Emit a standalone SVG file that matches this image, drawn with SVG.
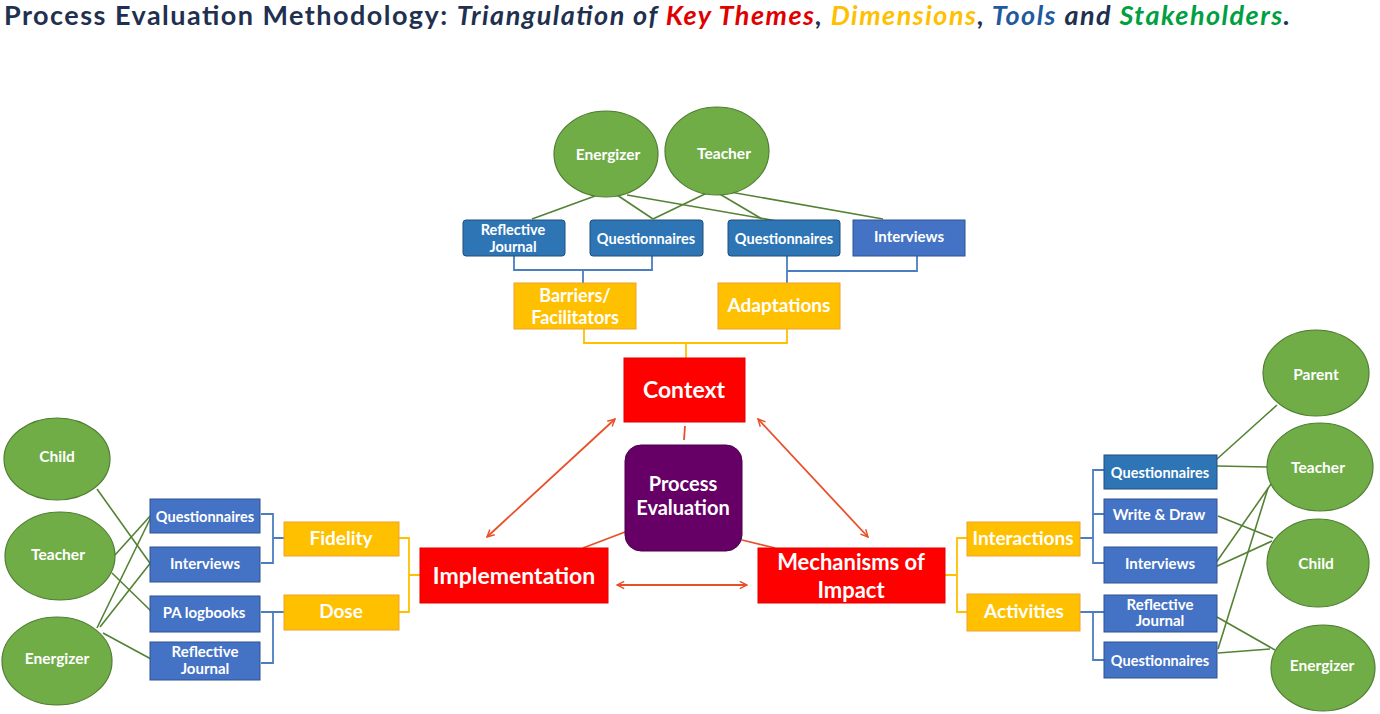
<svg xmlns="http://www.w3.org/2000/svg" width="1380" height="714" viewBox="0 0 1380 714">
<defs>
<style>
.t{font-family:Lato,"Open Sans","Liberation Sans",sans-serif;font-weight:bold;fill:#fff;text-anchor:middle;dominant-baseline:central}
.st{fill:#70AD47;stroke:#507E32;stroke-width:1.2}
.tl{fill:#4472C4;stroke:#2F528F;stroke-width:1}
.tl2{fill:#2E75B6;stroke:#1F4E79;stroke-width:1}
.dm{fill:#FFC000;stroke:#F0A030;stroke-width:1}
.kt{fill:#FF0000;stroke:#E00000;stroke-width:1}
.gl{stroke:#548235;stroke-width:1.6;fill:none}
.bl{stroke:#4A7EC0;stroke-width:1.8;fill:none}
.yl{stroke:#FFC000;stroke-width:1.8;fill:none}
.rl{stroke:#E8502A;stroke-width:1.8;fill:none}
.fs13{font-size:14.5px}
.fs14{font-size:15px}
.fe{font-size:15.5px}
.fs18{font-size:19px}
.fs21{font-size:23px}
</style>
<marker id="ah" viewBox="0 0 10 10" refX="9" refY="5" markerWidth="9" markerHeight="9" orient="auto-start-reverse" markerUnits="userSpaceOnUse">
<path d="M1,1 L9,5 L1,9" fill="none" stroke="#E8502A" stroke-width="1.6"/>
</marker>
</defs>
<rect width="1380" height="714" fill="#fff"/>

<text x="4" y="25" font-family="Lato,'Open Sans','Liberation Sans',sans-serif" font-weight="bold" font-size="27" fill="#1F3050" textLength="1286" lengthAdjust="spacing">Process Evaluation Methodology: <tspan font-style="italic">Triangulation of <tspan fill="#E00000">Key Themes</tspan>, <tspan fill="#FFC000">Dimensions</tspan>, <tspan fill="#1F5AA0">Tools</tspan> and <tspan fill="#00A040">Stakeholders</tspan>.</tspan></text>

<g id="connectors">
<line class="gl" x1="595" y1="196" x2="532" y2="219"/>
<line class="gl" x1="617" y1="195" x2="653" y2="219"/>
<line class="gl" x1="707" y1="193" x2="653" y2="219"/>
<line class="gl" x1="627" y1="195" x2="777" y2="221"/>
<line class="gl" x1="718" y1="193" x2="762" y2="219"/>
<line class="gl" x1="730" y1="192" x2="883" y2="219"/>
<path class="bl" d="M514,256 V270 H652 V256 M583,270 V283"/>
<path class="bl" d="M787,256 V283 M787,271 H917 V256"/>
<path class="yl" d="M584,329 V343 H787 V329 M686,343 V358"/>
<line class="gl" x1="97" y1="489" x2="152" y2="566"/>
<line class="gl" x1="115" y1="555" x2="152" y2="514"/>
<line class="gl" x1="112" y1="573" x2="152" y2="612"/>
<line class="gl" x1="97" y1="628" x2="152" y2="515"/>
<line class="gl" x1="100" y1="627" x2="152" y2="561"/>
<line class="gl" x1="103" y1="633" x2="151" y2="659"/>
<path class="bl" d="M261,514 H273 V563 H261 M273,538 H284"/>
<path class="bl" d="M261,612 H284 M273,612 V663 H261"/>
<path class="yl" d="M399,538 H409 V612 H399 M409,575 H420"/>
<path class="bl" d="M1080,538 H1093 M1104,470 H1093 V563 H1104 M1093,514 H1104"/>
<path class="bl" d="M1080,612 H1104 M1093,612 V660 H1104"/>
<path class="yl" d="M967,538 H957 V612 H967 M945,575 H957"/>
<line class="gl" x1="1277" y1="405" x2="1217" y2="459"/>
<line class="gl" x1="1267" y1="467" x2="1217" y2="466"/>
<line class="gl" x1="1271" y1="484" x2="1213" y2="567"/>
<line class="gl" x1="1268" y1="488" x2="1218" y2="649"/>
<line class="gl" x1="1218" y1="516" x2="1273" y2="538"/>
<line class="gl" x1="1213" y1="568" x2="1272" y2="541"/>
<line class="gl" x1="1217" y1="617" x2="1275" y2="650"/>
<line class="gl" x1="1218" y1="653" x2="1270" y2="649"/>
<line class="rl" x1="615" y1="419" x2="487" y2="537" marker-start="url(#ah)" marker-end="url(#ah)"/>
<line class="rl" x1="758" y1="419" x2="868" y2="537" marker-start="url(#ah)" marker-end="url(#ah)"/>
<line class="rl" x1="617" y1="585" x2="747" y2="585" marker-start="url(#ah)" marker-end="url(#ah)"/>
<line class="rl" x1="685" y1="426" x2="684" y2="440"/>
<line class="rl" x1="625" y1="532" x2="583" y2="548"/>
<line class="rl" x1="742" y1="540" x2="775" y2="548"/>
</g>

<g id="context"><rect class="kt" x="624" y="358" width="121" height="64"/><text class="t fs21" x="684" y="389">Context</text></g>
<g id="process-evaluation"><rect x="625" y="445" width="117" height="106" rx="16" fill="#660066" stroke="#4A004A" stroke-width="1"/><text class="t" font-size="20" x="683" y="483">Process</text><text class="t" font-size="20" x="683" y="507">Evaluation</text></g>
<g id="implementation"><rect class="kt" x="420" y="548" width="188" height="55"/><text class="t fs21" x="514" y="575">Implementation</text></g>
<g id="mechanisms"><rect class="kt" x="758" y="548" width="187" height="55"/><text class="t" font-size="22" x="851" y="561">Mechanisms of</text><text class="t" font-size="22" x="851" y="589">Impact</text></g>

<g id="barriers"><rect class="dm" x="514" y="283" width="122" height="46"/><text class="t" font-size="18" x="575" y="295">Barriers/</text><text class="t" font-size="18" x="575" y="317">Facilitators</text></g>
<g id="adaptations"><rect class="dm" x="718" y="283" width="122" height="46"/><text class="t fs18" x="779" y="304">Adaptations</text></g>
<g id="fidelity"><rect class="dm" x="284" y="522" width="115" height="34"/><text class="t fs18" x="341" y="537">Fidelity</text></g>
<g id="dose"><rect class="dm" x="284" y="595" width="115" height="35"/><text class="t fs18" x="341" y="610">Dose</text></g>
<g id="interactions"><rect class="dm" x="967" y="522" width="113" height="34"/><text class="t fs18" x="1023" y="537">Interactions</text></g>
<g id="activities"><rect class="dm" x="967" y="594" width="113" height="37"/><text class="t fs18" x="1024" y="610">Activities</text></g>

<g id="top-reflective"><rect class="tl2" x="463" y="220" width="102" height="36" rx="3"/><text class="t fs13" x="513" y="229">Reflective</text><text class="t fs13" x="513" y="246">Journal</text></g>
<g id="top-questionnaires-1"><rect class="tl2" x="590" y="220" width="113" height="36" rx="3"/><text class="t fs13" x="646" y="238">Questionnaires</text></g>
<g id="top-questionnaires-2"><rect class="tl2" x="728" y="220" width="112" height="36" rx="3"/><text class="t fs13" x="784" y="238">Questionnaires</text></g>
<g id="top-interviews"><rect class="tl" x="853" y="220" width="112" height="36"/><text class="t fs14" x="909" y="236">Interviews</text></g>

<g id="left-questionnaires"><rect class="tl" x="150" y="499" width="110" height="34"/><text class="t fs13" x="205" y="516">Questionnaires</text></g>
<g id="left-interviews"><rect class="tl" x="150" y="547" width="110" height="35"/><text class="t fs14" x="205" y="563">Interviews</text></g>
<g id="left-pa-logbooks"><rect class="tl" x="150" y="596" width="110" height="36"/><text class="t fs14" x="204" y="612">PA logbooks</text></g>
<g id="left-reflective"><rect class="tl" x="150" y="642" width="110" height="38"/><text class="t fs14" x="205" y="651">Reflective</text><text class="t fs14" x="205" y="668">Journal</text></g>

<g id="right-questionnaires-1"><rect class="tl2" x="1104" y="455" width="113" height="34"/><text class="t fs13" x="1160" y="472">Questionnaires</text></g>
<g id="right-write-draw"><rect class="tl" x="1104" y="499" width="113" height="34"/><text class="t fs14" x="1159" y="514">Write &amp; Draw</text></g>
<g id="right-interviews"><rect class="tl" x="1104" y="547" width="113" height="36"/><text class="t fs14" x="1160" y="563">Interviews</text></g>
<g id="right-reflective"><rect class="tl" x="1104" y="595" width="113" height="37"/><text class="t fs14" x="1160" y="604">Reflective</text><text class="t fs14" x="1160" y="620">Journal</text></g>
<g id="right-questionnaires-2"><rect class="tl" x="1104" y="642" width="113" height="36"/><text class="t fs13" x="1160" y="660">Questionnaires</text></g>

<g id="top-energizer"><ellipse class="st" cx="606" cy="154" rx="52" ry="43"/><text class="t fe" x="608" y="154">Energizer</text></g>
<g id="top-teacher"><ellipse class="st" cx="717" cy="151" rx="52" ry="44"/><text class="t fe" x="724" y="153">Teacher</text></g>
<g id="left-child"><ellipse class="st" cx="57" cy="459" rx="53" ry="41"/><text class="t fe" x="57" y="456">Child</text></g>
<g id="left-teacher"><ellipse class="st" cx="60" cy="556" rx="55" ry="44"/><text class="t fe" x="58" y="554">Teacher</text></g>
<g id="left-energizer"><ellipse class="st" cx="57" cy="661" rx="55" ry="44"/><text class="t fe" x="57" y="658">Energizer</text></g>
<g id="right-parent"><ellipse class="st" cx="1316" cy="373" rx="53" ry="43"/><text class="t fe" x="1316" y="374">Parent</text></g>
<g id="right-teacher"><ellipse class="st" cx="1320" cy="467" rx="53" ry="44"/><text class="t fe" x="1318" y="467">Teacher</text></g>
<g id="right-child"><ellipse class="st" cx="1318" cy="563" rx="51" ry="44"/><text class="t fe" x="1316" y="563">Child</text></g>
<g id="right-energizer"><ellipse class="st" cx="1323" cy="668" rx="52" ry="43"/><text class="t fe" x="1322" y="665">Energizer</text></g>
</svg>
